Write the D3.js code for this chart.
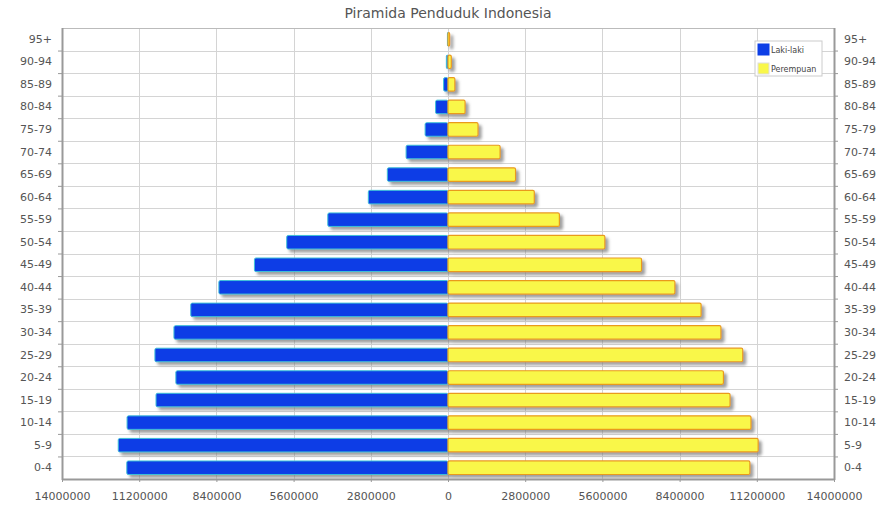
<!DOCTYPE html>
<html>
<head>
<meta charset="utf-8">
<script src="https://cdn.jsdelivr.net/npm/d3@7"></script>
<style>
  body { margin: 0; background: #fff; }
  text { font-family: 'DejaVu Sans', sans-serif; fill: #555; }
  .grid line { stroke: #d4d4d4; stroke-width: 1; }
  .frame { fill: none; stroke: #999; }
</style>
</head>
<body>
<div id="plot-container"></div>
<script>
// The data (bottom to top)
var ageGroups = ['0-4','5-9','10-14','15-19','20-24','25-29','30-34','35-39','40-44','45-49',
                 '50-54','55-59','60-64','65-69','70-74','75-79','80-84','85-89','90-94','95+'];
var male   = [11650000, 11960000, 11640000, 10590000, 9870000, 10630000, 9940000, 9330000, 8310000, 7020000,
              5850000, 4360000, 2890000, 2200000, 1520000, 830000, 450000, 160000, 60000, 20000];
var female = [10950000, 11250000, 10990000, 10230000, 9990000, 10690000, 9900000, 9180000, 8230000, 7020000,
              5690000, 4040000, 3130000, 2450000, 1890000, 1090000, 620000, 250000, 120000, 60000];
var xTicks = [-14000000, -11200000, -8400000, -5600000, -2800000, 0, 2800000, 5600000, 8400000, 11200000, 14000000];
var seriesNames = ['Laki-laki', 'Perempuan'];

// The configuration parameters
var totalWidth = 895, totalHeight = 511;
var margins = {top: 28, bottom: 32, left: 62, right: 61};
var width = totalWidth - margins.left - margins.right;
var height = totalHeight - margins.top - margins.bottom;
var colors = {male: '#0d3ee6', maleEdge: '#3fc0d8', female: '#f9f74a', femaleEdge: '#e99a1e'};

var svg = d3.select('#plot-container').append('svg').attr('width', totalWidth).attr('height', totalHeight);

var defs = svg.append('defs');
var shadow = defs.append('filter').attr('id', 'shadow').attr('x', '-20%').attr('y', '-50%').attr('width', '140%').attr('height', '220%');
shadow.append('feDropShadow').attr('dx', 3).attr('dy', 3).attr('stdDeviation', 1.6).attr('flood-color', '#777').attr('flood-opacity', 0.7);

var xScale = d3.scaleLinear().domain([-14000000, 14000000]).range([0, width]);
var yScale = d3.scaleBand().domain(ageGroups.slice().reverse()).range([0, height]).paddingInner(0.4).paddingOuter(0.2);
var yRows = d3.scaleBand().domain(ageGroups.slice().reverse()).range([0, height]);

// Title
svg.append('text').attr('x', margins.left + width / 2).attr('y', 18).attr('text-anchor', 'middle')
  .style('font-size', '14px').style('fill', '#555').text('Piramida Penduduk Indonesia');

var plot = svg.append('g').attr('transform', 'translate(' + [margins.left, margins.top] + ')');

// Grid lines
var grid = plot.append('g').attr('class', 'grid');
grid.selectAll('line.v').data(xTicks).enter().append('line').attr('class', 'v')
  .attr('x1', function(d) { return Math.round(xScale(d)) + 0.5; }).attr('x2', function(d) { return Math.round(xScale(d)) + 0.5; })
  .attr('y1', 0).attr('y2', height);
grid.selectAll('line.h').data(ageGroups.slice(0, ageGroups.length - 1)).enter().append('line').attr('class', 'h')
  .attr('x1', 0).attr('x2', width)
  .attr('y1', function(d) { return Math.round(yRows(d)) + 0.5; }).attr('y2', function(d) { return Math.round(yRows(d)) + 0.5; });

// Bars
var bars = plot.append('g').attr('filter', 'url(#shadow)');
bars.selectAll('rect.male').data(male).enter().append('rect').attr('class', 'male')
  .attr('x', function(d) { return xScale(-d); }).attr('y', function(d, i) { return yScale(ageGroups[i]); })
  .attr('width', function(d) { return xScale(0) - xScale(-d); }).attr('height', yScale.bandwidth())
  .attr('rx', 1.5).attr('fill', colors.male).attr('stroke', colors.maleEdge).attr('stroke-width', 1);
bars.selectAll('rect.female').data(female).enter().append('rect').attr('class', 'female')
  .attr('x', xScale(0)).attr('y', function(d, i) { return yScale(ageGroups[i]); })
  .attr('width', function(d) { return xScale(d) - xScale(0); }).attr('height', yScale.bandwidth())
  .attr('rx', 1.5).attr('fill', colors.female).attr('stroke', colors.femaleEdge).attr('stroke-width', 1.2);

// Frame
plot.append('rect').attr('class', 'frame').attr('x', 0.5).attr('y', 0.5).attr('width', width).attr('height', height).style('stroke', '#bbb');
plot.append('line').attr('x1', 0.5).attr('x2', 0.5).attr('y1', 0).attr('y2', height + 1).attr('stroke', '#999').attr('stroke-width', 2);
plot.append('line').attr('x1', width + 0.5).attr('x2', width + 0.5).attr('y1', 0).attr('y2', height + 1).attr('stroke', '#999').attr('stroke-width', 2);
plot.append('line').attr('x1', 0).attr('x2', width + 1).attr('y1', height + 0.5).attr('y2', height + 0.5).attr('stroke', '#999').attr('stroke-width', 2);

// Axes
var yLeft = d3.axisLeft(yRows).tickSize(0).tickPadding(10);
var yRight = d3.axisRight(yRows).tickSize(0).tickPadding(10);
var xAxis = d3.axisBottom(xScale).tickValues(xTicks).tickSize(3).tickPadding(10)
  .tickFormat(function(d) { return String(Math.abs(d)); });

function styleAxis(g) {
  g.select('.domain').remove();
  g.selectAll('line').attr('stroke', '#999');
  g.selectAll('text').style('font-size', '11px').style('fill', '#555').style('font-family', "'DejaVu Sans', sans-serif");
}
plot.append('g').call(yLeft).call(styleAxis);
plot.append('g').attr('transform', 'translate(' + [width, 0] + ')').call(yRight).call(styleAxis);
plot.append('g').attr('transform', 'translate(' + [0, height] + ')').call(xAxis).call(styleAxis);

// Small row ticks on both sides
var rowEdges = ageGroups.slice(0, ageGroups.length - 1);
plot.selectAll('line.ltick').data(rowEdges).enter().append('line').attr('class', 'ltick')
  .attr('x1', -4).attr('x2', 0).attr('y1', function(d) { return yRows(d) + 0.5; }).attr('y2', function(d) { return yRows(d) + 0.5; }).attr('stroke', '#999');
plot.selectAll('line.rtick').data(rowEdges).enter().append('line').attr('class', 'rtick')
  .attr('x1', width).attr('x2', width + 4).attr('y1', function(d) { return yRows(d) + 0.5; }).attr('y2', function(d) { return yRows(d) + 0.5; }).attr('stroke', '#999');

// Legend
var legend = plot.append('g').attr('transform', 'translate(' + [width - 79, 13] + ')');
legend.append('rect').attr('width', 67).attr('height', 35).attr('fill', '#fff').attr('stroke', '#ccc');
legend.selectAll('rect.sw').data(seriesNames).enter().append('rect').attr('class', 'sw')
  .attr('x', 3).attr('y', function(d, i) { return 3 + i * 19; }).attr('width', 11).attr('height', 11)
  .attr('fill', function(d, i) { return i === 0 ? colors.male : colors.female; })
  .attr('stroke', function(d, i) { return i === 0 ? colors.male : '#ddd'; });
legend.selectAll('text.lt').data(seriesNames).enter().append('text').attr('class', 'lt')
  .attr('x', 16).attr('y', function(d, i) { return 12 + i * 19; })
  .style('font-size', '8px').style('fill', '#444').text(function(d) { return d; });
</script>
</body>
</html>
